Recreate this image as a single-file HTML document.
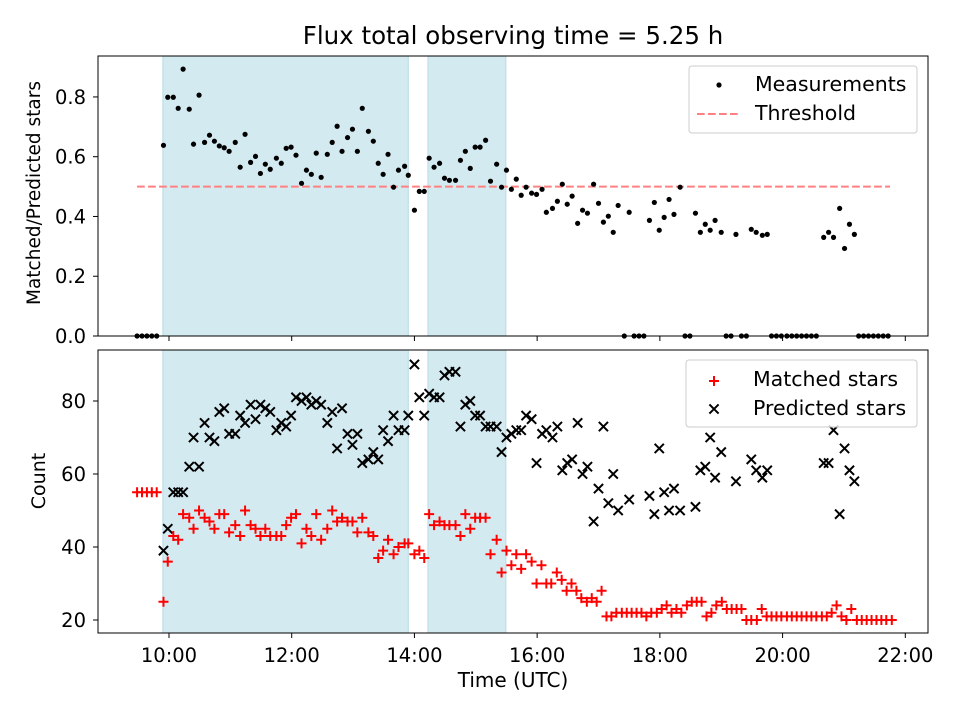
<!DOCTYPE html>
<html><head><meta charset="utf-8"><style>
html,body{margin:0;padding:0;background:#fff;}
svg{display:block;font-family:"DejaVu Sans","Liberation Sans",sans-serif;}
</style></head><body>
<svg id="chart" width="960" height="720" viewBox="0 0 960 720" xmlns="http://www.w3.org/2000/svg">
<rect x="0" y="0" width="960" height="720" fill="#fff"/>
<text x="513" y="44" font-size="24.5" text-anchor="middle" fill="#000">Flux total observing time = 5.25 h</text>
<g id="top"></g><g id="bot"></g>
<text transform="translate(40,193) rotate(-90)" font-size="18.5" text-anchor="middle">Matched/Predicted stars</text>
<text transform="translate(45,481) rotate(-90)" font-size="19" text-anchor="middle">Count</text>
<text x="513" y="687" font-size="20" text-anchor="middle">Time (UTC)</text>
</svg>
<script>
const ratioTimes=[9.48,9.56,9.64,9.72,9.80,9.91,9.98,10.07,10.15,10.23,10.33,10.40,10.49,10.58,10.66,10.74,10.82,10.90,10.98,11.08,11.16,11.24,11.33,11.41,11.49,11.57,11.65,11.75,11.83,11.91,11.99,12.07,12.16,12.24,12.32,12.40,12.48,12.58,12.66,12.74,12.82,12.91,12.99,13.07,13.15,13.25,13.33,13.41,13.49,13.57,13.66,13.74,13.84,13.90,14.00,14.08,14.16,14.24,14.32,14.41,14.49,14.57,14.67,14.75,14.83,14.91,14.99,15.07,15.16,15.24,15.34,15.42,15.50,15.58,15.66,15.74,15.82,15.91,15.99,16.08,16.15,16.25,16.33,16.41,16.49,16.57,16.66,16.74,16.82,16.92,17.00,17.08,17.16,17.24,17.32,17.42,17.50,17.58,17.66,17.74,17.83,17.91,17.99,18.07,18.15,18.23,18.33,18.41,18.49,18.58,18.66,18.74,18.82,18.90,19.00,19.08,19.16,19.24,19.33,19.41,19.49,19.57,19.67,19.75,19.82,19.90,19.98,20.07,20.15,20.23,20.31,20.39,20.47,20.55,20.67,20.75,20.83,20.93,21.01,21.09,21.17,21.24,21.32,21.40,21.48,21.56,21.64,21.72];
const ratioValues=[0,0,0,0,0,0.638,0.799,0.799,0.762,0.893,0.759,0.642,0.806,0.648,0.672,0.652,0.636,0.630,0.618,0.648,0.565,0.675,0.581,0.601,0.544,0.575,0.558,0.595,0.578,0.628,0.632,0.605,0.511,0.555,0.541,0.612,0.531,0.608,0.648,0.702,0.618,0.664,0.692,0.618,0.762,0.685,0.652,0.578,0.541,0.608,0.498,0.555,0.568,0.538,0.421,0.484,0.484,0.595,0.565,0.578,0.528,0.521,0.521,0.588,0.618,0.561,0.632,0.632,0.655,0.518,0.575,0.498,0.555,0.491,0.525,0.471,0.498,0.478,0.474,0.491,0.414,0.427,0.451,0.508,0.441,0.468,0.377,0.421,0.411,0.508,0.444,0.381,0.401,0.347,0.437,0,0.414,0,0,0,0.387,0.447,0.354,0.397,0.457,0.407,0.498,0,0,0.411,0.347,0.374,0.354,0.387,0.347,0,0,0.340,0,0,0.357,0.347,0.337,0.340,0,0,0,0,0,0,0,0,0,0,0.330,0.347,0.330,0.427,0.293,0.374,0.340,0,0,0,0,0,0,0];
const threshold=0.5, thresholdStart=9.48, thresholdEnd=21.75;
const spans=[[9.90,13.90],[14.22,15.49]];
const matchedTimes=[9.48,9.56,9.64,9.72,9.80,9.91,9.98,10.07,10.15,10.23,10.33,10.40,10.49,10.58,10.66,10.74,10.82,10.90,10.98,11.08,11.16,11.24,11.33,11.41,11.49,11.57,11.65,11.75,11.83,11.91,11.99,12.07,12.16,12.24,12.32,12.40,12.48,12.58,12.66,12.74,12.82,12.91,12.99,13.07,13.15,13.25,13.33,13.41,13.49,13.57,13.66,13.74,13.84,13.90,14.00,14.08,14.16,14.24,14.32,14.41,14.49,14.57,14.67,14.75,14.83,14.91,14.99,15.07,15.16,15.24,15.34,15.42,15.50,15.58,15.66,15.74,15.82,15.91,15.99,16.07,16.15,16.23,16.32,16.40,16.48,16.56,16.64,16.72,16.81,16.89,16.97,17.05,17.13,17.21,17.29,17.38,17.46,17.54,17.62,17.70,17.78,17.86,17.95,18.03,18.11,18.19,18.27,18.35,18.44,18.52,18.60,18.68,18.76,18.84,18.92,19.01,19.09,19.17,19.25,19.33,19.41,19.49,19.58,19.66,19.74,19.82,19.90,19.98,20.07,20.15,20.23,20.31,20.39,20.47,20.55,20.64,20.72,20.80,20.88,20.96,21.04,21.12,21.21,21.29,21.37,21.45,21.53,21.61,21.69,21.78];
const matchedValues=[55,55,55,55,55,25,36,43,42,49,48,45,50,48,47,45,49,49,44,46,43,50,46,45,43,45,43,43,43,46,48,49,41,45,43,49,42,45,50,47,48,47,47,44,48,44,43,37,39,42,38,40,41,41,38,39,37,49,46,47,46,46,46,43,49,45,48,48,48,38,42,33,39,35,38,34,38,36,30,35,30,30,33,31,28,30,28,26,25,26,25,28,21,21,22,22,22,22,22,22,21,22,22,23,24,22,23,22,24,25,25,25,21,22,24,25,23,23,23,23,20,20,20,23,21,21,21,21,21,21,21,21,21,21,21,21,21,22,24,21,20,23,20,20,20,20,20,20,20,20];
const predTimes=[9.91,9.98,10.07,10.15,10.23,10.33,10.40,10.49,10.58,10.66,10.74,10.82,10.90,10.98,11.08,11.16,11.24,11.33,11.41,11.49,11.57,11.65,11.75,11.83,11.91,11.99,12.07,12.16,12.24,12.32,12.40,12.48,12.58,12.66,12.74,12.82,12.91,12.99,13.07,13.15,13.25,13.33,13.41,13.49,13.57,13.66,13.74,13.84,13.90,14.00,14.08,14.16,14.24,14.32,14.41,14.49,14.57,14.67,14.75,14.83,14.91,14.99,15.07,15.16,15.24,15.34,15.42,15.50,15.58,15.66,15.74,15.82,15.91,15.99,16.08,16.15,16.25,16.33,16.41,16.49,16.57,16.66,16.74,16.82,16.92,17.00,17.08,17.16,17.24,17.32,17.50,17.83,17.91,17.99,18.07,18.15,18.23,18.33,18.58,18.66,18.74,18.82,18.90,19.00,19.24,19.49,19.57,19.67,19.75,20.67,20.75,20.83,20.93,21.01,21.09,21.17];
const predValues=[39,45,55,55,55,62,70,62,74,70,69,77,78,71,71,76,74,79,75,79,78,77,72,74,73,76,81,80,81,79,80,79,74,77,67,78,71,68,71,63,64,66,64,72,69,76,72,72,76,90,81,76,82,81,81,87,88,88,73,79,80,76,76,73,73,73,66,70,71,72,72,76,75,63,71,72,70,73,61,63,64,74,60,62,47,56,73,52,60,50,53,54,49,67,55,50,56,50,51,61,62,70,59,66,58,64,61,59,61,63,63,72,49,67,61,58];
const xTicks=[10,12,14,16,18,20,22];
const xTickLabels=["10:00","12:00","14:00","16:00","18:00","20:00","22:00"];
const topYTicks=[0,0.2,0.4,0.6,0.8];
const topYTickLabels=["0.0","0.2","0.4","0.6","0.8"];
const botYTicks=[20,40,60,80];
const botYTickLabels=["20","40","60","80"];

const NS="http://www.w3.org/2000/svg";
const L=98,R=928, TT=56,TB=336, BT=350,BB=633;
const X0=8.843,X1=22.37;
const xs=h=>L+(h-X0)/(X1-X0)*(R-L);
const yTop=v=>TB-(v-0)/(0.937-0)*(TB-TT);
const yBot=v=>BB-(v-16.44)/(93.97-16.44)*(BB-BT);
function mk(tag,attrs,parent){const e=document.createElementNS(NS,tag);for(const k in attrs)e.setAttribute(k,attrs[k]);parent.appendChild(e);return e;}
const gT=document.getElementById('top'), gB=document.getElementById('bot');

function panel(g,top,bot,yf,yt,yl,labelsX,name){
  spans.forEach((s,i)=>{
    const r=mk('rect',{x:xs(s[0]),y:top,width:xs(s[1])-xs(s[0]),height:bot-top,fill:'#d4eaf1',stroke:'#b9dbe6','stroke-width':1},g);
    
    
  });
  xTicks.forEach((t,i)=>{
    const x=xs(t);
    const tk=mk('line',{x1:x,x2:x,y1:bot,y2:bot+5,stroke:'#000','stroke-width':1},g);
    
    
    if(labelsX){
      const tx=mk('text',{x:x,y:bot+29,'font-size':19.5,'text-anchor':'middle'},g);tx.textContent=xTickLabels[i];
      
      
    }
  });
  yt.forEach((t,i)=>{
    const y=yf(t);
    const tk=mk('line',{x1:L-5,x2:L,y1:y,y2:y,stroke:'#000','stroke-width':1},g);
    
    
    const tx=mk('text',{x:L-12,y:y+7,'font-size':19.5,'text-anchor':'end'},g);tx.textContent=yl[i];
    
    
  });
}
panel(gT,TT,TB,yTop,topYTicks,topYTickLabels,false,'top');
panel(gB,BT,BB,yBot,botYTicks,botYTickLabels,true,'bottom');

const th=mk('line',{x1:xs(thresholdStart),x2:xs(thresholdEnd),y1:yTop(threshold),y2:yTop(threshold),stroke:'#ff8080','stroke-width':2,'stroke-dasharray':'7.7 3.3'},gT);


ratioTimes.forEach((t,i)=>{
  const c=mk('circle',{cx:xs(t),cy:yTop(ratioValues[i]),r:2.6,fill:'#000'},gT);
  
  
});
predTimes.forEach((t,i)=>{
  const x=xs(t),y=yBot(predValues[i]),d=4.6;
  const p=mk('path',{d:`M${x-d},${y-d}L${x+d},${y+d}M${x-d},${y+d}L${x+d},${y-d}`,stroke:'#000','stroke-width':2},gB);
  
  
});
matchedTimes.forEach((t,i)=>{
  const x=xs(t),y=yBot(matchedValues[i]),d=5;
  const p=mk('path',{d:`M${x-d},${y}L${x+d},${y}M${x},${y-d}L${x},${y+d}`,stroke:'#f00','stroke-width':2},gB);
  
  
});
[[TT,TB,'top-plot-frame'],[BT,BB,'bottom-plot-frame']].forEach(f=>{
  const r=mk('rect',{x:L,y:f[0],width:R-L,height:f[1]-f[0],fill:'none',stroke:'#000','stroke-width':1},document.getElementById('chart'));
  
  
});
const svg=document.getElementById('chart');
const lg1=mk('g',{},svg);


mk('rect',{x:689,y:66,width:228,height:67,rx:3,fill:'#fff','fill-opacity':0.8,stroke:'#ccc'},lg1);
mk('circle',{cx:719,cy:85,r:2.6,fill:'#000'},lg1);
let t1=mk('text',{x:755,y:91,'font-size':20.5},lg1);t1.textContent='Measurements';


mk('line',{x1:697,x2:740,y1:114,y2:114,stroke:'#ff8080','stroke-width':2,'stroke-dasharray':'7.7 3.3'},lg1);
let t2=mk('text',{x:755,y:120,'font-size':20.5},lg1);t2.textContent='Threshold';



const lg2=mk('g',{},svg);


mk('rect',{x:686,y:360,width:231,height:67,rx:3,fill:'#fff','fill-opacity':0.8,stroke:'#ccc'},lg2);
mk('path',{d:'M709,381L719,381M714,376L714,386',stroke:'#f00','stroke-width':2},lg2);
let t3=mk('text',{x:753,y:386,'font-size':20.5},lg2);t3.textContent='Matched stars';


mk('path',{d:'M709.4,404.4L718.6,413.6M709.4,413.6L718.6,404.4',stroke:'#000','stroke-width':2},lg2);
let t4=mk('text',{x:753,y:415,'font-size':20.5},lg2);t4.textContent='Predicted stars';


</script>
</body></html>
